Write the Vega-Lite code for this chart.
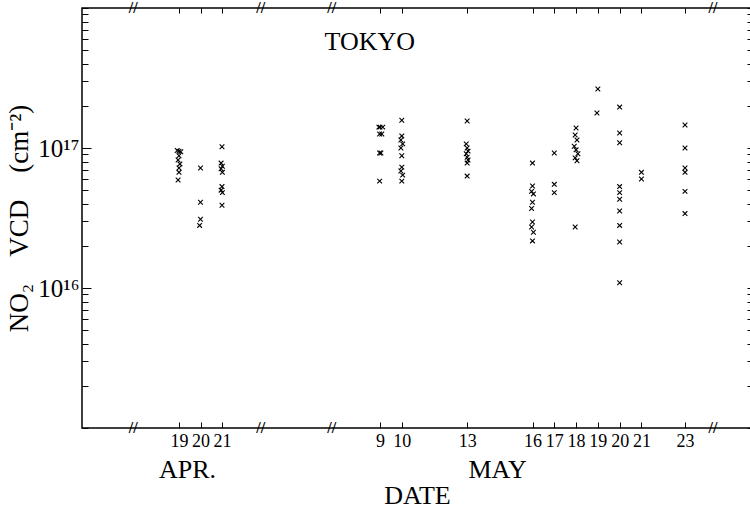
{
  "$schema": "https://vega.github.io/schema/vega-lite/v6.json",
  "width": 670,
  "height": 420,
  "autosize": "none",
  "padding": {"left": 82, "top": 8, "right": 0, "bottom": 82},
  "background": "white",
  "config": {
    "font": "Liberation Serif",
    "view": {"stroke": "black", "strokeWidth": 1.5},
    "axis": {
      "domain": false,
      "grid": false,
      "tickColor": "black",
      "labelColor": "black",
      "titleColor": "black",
      "labelFont": "Liberation Serif",
      "titleFont": "Liberation Serif",
      "titleFontWeight": "normal"
    }
  },
  "layer": [
    {
      "data": {
        "values": [
          {"day": 109.417, "vcd": 9.6e16},
          {"day": 109.5, "vcd": 9.5e16},
          {"day": 109.583, "vcd": 9.4e16},
          {"day": 109.5, "vcd": 8.8e16},
          {"day": 109.458, "vcd": 8.2e16},
          {"day": 109.542, "vcd": 7.7e16},
          {"day": 109.5, "vcd": 7.2e16},
          {"day": 109.5, "vcd": 6.7e16},
          {"day": 109.458, "vcd": 5.9e16},
          {"day": 110.5, "vcd": 7.2e16},
          {"day": 110.5, "vcd": 4.1e16},
          {"day": 110.5, "vcd": 3.1e16},
          {"day": 110.458, "vcd": 2.8e16},
          {"day": 111.5, "vcd": 1.02e17},
          {"day": 111.458, "vcd": 7.8e16},
          {"day": 111.542, "vcd": 7.4e16},
          {"day": 111.458, "vcd": 7.1e16},
          {"day": 111.542, "vcd": 6.7e16},
          {"day": 111.5, "vcd": 5.3e16},
          {"day": 111.458, "vcd": 5.0e16},
          {"day": 111.542, "vcd": 4.8e16},
          {"day": 111.5, "vcd": 3.9e16},
          {"day": 129.375, "vcd": 1.41e17},
          {"day": 129.5, "vcd": 1.41e17},
          {"day": 129.625, "vcd": 1.41e17},
          {"day": 129.458, "vcd": 1.26e17},
          {"day": 129.583, "vcd": 1.26e17},
          {"day": 129.458, "vcd": 9.2e16},
          {"day": 129.542, "vcd": 9.2e16},
          {"day": 129.458, "vcd": 5.8e16},
          {"day": 130.5, "vcd": 1.58e17},
          {"day": 130.5, "vcd": 1.22e17},
          {"day": 130.458, "vcd": 1.14e17},
          {"day": 130.542, "vcd": 1.07e17},
          {"day": 130.458, "vcd": 1.0e17},
          {"day": 130.5, "vcd": 8.8e16},
          {"day": 130.5, "vcd": 7.3e16},
          {"day": 130.458, "vcd": 6.85e16},
          {"day": 130.542, "vcd": 6.4e16},
          {"day": 130.5, "vcd": 5.8e16},
          {"day": 133.5, "vcd": 1.56e17},
          {"day": 133.458, "vcd": 1.07e17},
          {"day": 133.5, "vcd": 1.0e17},
          {"day": 133.542, "vcd": 9.5e16},
          {"day": 133.458, "vcd": 9.1e16},
          {"day": 133.5, "vcd": 8.6e16},
          {"day": 133.542, "vcd": 8.2e16},
          {"day": 133.5, "vcd": 7.8e16},
          {"day": 133.5, "vcd": 6.3e16},
          {"day": 136.5, "vcd": 7.8e16},
          {"day": 136.5, "vcd": 5.35e16},
          {"day": 136.458, "vcd": 4.9e16},
          {"day": 136.542, "vcd": 4.7e16},
          {"day": 136.5, "vcd": 4.1e16},
          {"day": 136.458, "vcd": 3.7e16},
          {"day": 136.5, "vcd": 2.96e16},
          {"day": 136.458, "vcd": 2.73e16},
          {"day": 136.542, "vcd": 2.5e16},
          {"day": 136.5, "vcd": 2.17e16},
          {"day": 137.5, "vcd": 9.2e16},
          {"day": 137.5, "vcd": 5.5e16},
          {"day": 137.5, "vcd": 4.8e16},
          {"day": 138.5, "vcd": 1.39e17},
          {"day": 138.458, "vcd": 1.24e17},
          {"day": 138.542, "vcd": 1.14e17},
          {"day": 138.417, "vcd": 1.03e17},
          {"day": 138.5, "vcd": 9.7e16},
          {"day": 138.583, "vcd": 9.1e16},
          {"day": 138.458, "vcd": 8.5e16},
          {"day": 138.542, "vcd": 8.1e16},
          {"day": 138.458, "vcd": 2.73e16},
          {"day": 139.5, "vcd": 2.64e17},
          {"day": 139.458, "vcd": 1.78e17},
          {"day": 140.5, "vcd": 1.96e17},
          {"day": 140.5, "vcd": 1.28e17},
          {"day": 140.5, "vcd": 1.09e17},
          {"day": 140.5, "vcd": 5.3e16},
          {"day": 140.5, "vcd": 4.8e16},
          {"day": 140.5, "vcd": 4.3e16},
          {"day": 140.5, "vcd": 3.55e16},
          {"day": 140.5, "vcd": 2.8e16},
          {"day": 140.5, "vcd": 2.13e16},
          {"day": 140.5, "vcd": 1.09e16},
          {"day": 141.5, "vcd": 6.7e16},
          {"day": 141.5, "vcd": 6.0e16},
          {"day": 143.5, "vcd": 1.46e17},
          {"day": 143.5, "vcd": 1.0e17},
          {"day": 143.5, "vcd": 7.2e16},
          {"day": 143.5, "vcd": 6.7e16},
          {"day": 143.5, "vcd": 4.9e16},
          {"day": 143.5, "vcd": 3.4e16}
        ]
      },
      "mark": {"type": "point", "shape": "M-1,-1L1,1M-1,1L1,-1", "filled": false, "stroke": "black", "strokeWidth": 1.1, "size": 22, "opacity": 1},
      "encoding": {
        "x": {
          "field": "day", "type": "quantitative",
          "scale": {"domain": [105, 109.5, 111.5, 129.5, 143.5, 146.6], "range": [0, 97, 140, 298, 603, 670], "nice": false, "zero": false},
          "axis": {
            "orient": "bottom",
            "title": null,
            "values": [109.5, 110.5, 111.5, 129.5, 130.5, 133.5, 136.5, 137.5, 138.5, 139.5, 140.5, 141.5, 143.5],
            "labelExpr": "floor(datum.value) - (datum.value < 121 ? 90 : 120)",
            "tickSize": -6,
            "tickWidth": 1,
            "labelPadding": 10,
            "labelFontSize": 18,
            "labelFlush": false,
            "labelOverlap": false
          }
        },
        "y": {
          "field": "vcd", "type": "quantitative",
          "scale": {"type": "log", "domain": [1e15, 1e18], "nice": false},
          "axis": {
            "orient": "left",
            "title": "NO₂\u2002\u2002VCD\u2002\u2002(cm⁻²)",
            "titleFontSize": 27,
            "titlePadding": 4,
            "values": [1e15, 2e15, 3e15, 4e15, 5e15, 6e15, 7e15, 8e15, 9e15, 1e16, 2e16, 3e16, 4e16, 5e16, 6e16, 7e16, 8e16, 9e16, 1e17, 2e17, 3e17, 4e17, 5e17, 6e17, 7e17, 8e17, 9e17, 1e18],
            "labelExpr": "datum.value == 1e16 ? '10¹⁶' : datum.value == 1e17 ? '10¹⁷' : ''",
            "labelFontSize": 25,
            "labelPadding": 12,
            "tickSize": {"condition": {"test": "datum.value == 1e16 || datum.value == 1e17", "value": -9}, "value": -6},
            "tickWidth": 1,
            "labelOverlap": false
          }
        }
      }
    },
    {
      "data": {"values": [{"day": 128.333, "vcd": 5.7e17, "label": "TOKYO"}]},
      "mark": {"type": "text", "font": "Liberation Serif", "fontSize": 26, "color": "black", "align": "center", "baseline": "middle"},
      "encoding": {
        "text": {"field": "label"},
        "x": {
          "field": "day", "type": "quantitative",
          "scale": {"domain": [105, 109.5, 111.5, 129.5, 143.5, 146.6], "range": [0, 97, 140, 298, 603, 670], "nice": false, "zero": false},
          "axis": {
            "orient": "bottom",
            "values": [109.875, 134.875],
            "labelExpr": "datum.value < 121 ? 'APR.' : 'MAY'",
            "ticks": false,
            "labelPadding": 28,
            "labelFontSize": 26,
            "labelFlush": false,
            "title": "DATE",
            "titleFontSize": 26,
            "titlePadding": 0
          }
        },
        "y": {
          "field": "vcd", "type": "quantitative",
          "scale": {"type": "log", "domain": [1e15, 1e18], "nice": false},
          "axis": {
            "orient": "right",
            "title": null,
            "labels": false,
            "values": [1e15, 2e15, 3e15, 4e15, 5e15, 6e15, 7e15, 8e15, 9e15, 1e16, 2e16, 3e16, 4e16, 5e16, 6e16, 7e16, 8e16, 9e16, 1e17, 2e17, 3e17, 4e17, 5e17, 6e17, 7e17, 8e17, 9e17, 1e18],
            "tickSize": -5,
            "tickWidth": 1
          }
        }
      }
    },
    {
      "data": {
        "values": [
          {"day": 107.375, "vcd": 1e15, "label": "//"},
          {"day": 115.917, "vcd": 1e15, "label": "//"},
          {"day": 124.0, "vcd": 1e15, "label": "//"},
          {"day": 144.792, "vcd": 1e15, "label": "//"},
          {"day": 107.375, "vcd": 1e18, "label": "//"},
          {"day": 115.917, "vcd": 1e18, "label": "//"},
          {"day": 124.0, "vcd": 1e18, "label": "//"},
          {"day": 144.792, "vcd": 1e18, "label": "//"}
        ]
      },
      "mark": {"type": "text", "font": "Liberation Serif", "fontSize": 16, "fontWeight": "bold", "color": "black", "align": "center", "baseline": "middle"},
      "encoding": {
        "text": {"field": "label"},
        "x": {
          "field": "day", "type": "quantitative",
          "scale": {"domain": [105, 109.5, 111.5, 129.5, 143.5, 146.6], "range": [0, 97, 140, 298, 603, 670], "nice": false, "zero": false},
          "axis": {
            "orient": "top",
            "title": null,
            "labels": false,
            "values": [109.5, 110.5, 111.5, 129.5, 130.5, 133.5, 136.5, 137.5, 138.5, 139.5, 140.5, 141.5, 143.5],
            "tickSize": -5,
            "tickWidth": 1
          }
        },
        "y": {
          "field": "vcd", "type": "quantitative",
          "scale": {"type": "log", "domain": [1e15, 1e18], "nice": false},
          "axis": null
        }
      }
    }
  ],
  "resolve": {"axis": {"x": "independent", "y": "independent"}}
}
